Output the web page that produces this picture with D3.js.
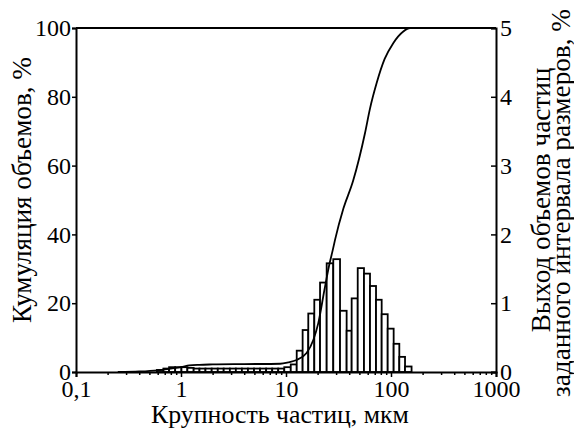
<!DOCTYPE html>
<html>
<head>
<meta charset="utf-8">
<script src="https://cdn.jsdelivr.net/npm/d3@7"></script>
<style>
  body { margin: 0; background: #fff; }
</style>
</head>
<body>
<svg id="chart" width="574" height="432"></svg>
<script>
// границы интервалов гистограммы, мкм
const binEdges = [0.59, 0.68, 0.77, 0.88, 1.01, 1.15, 1.32, 1.5, 1.71, 1.96, 2.24, 2.55,
  2.92, 3.33, 3.8, 4.34, 4.96, 5.66, 6.47, 7.39, 8.43, 9.63, 11.1, 12.65, 14.4, 16.3,
  18.6, 21.1, 24.4, 28.2, 32.7, 37.8, 42.2, 48.2, 55.3, 63.1, 72, 81.5, 93, 106, 120,
  136, 157];
// выход объемов частиц, % (правая ось)
const binValues = [0.03, 0.05, 0.07, 0.07, 0.07, 0.06, 0.05, 0.05, 0.05, 0.05, 0.05,
  0.05, 0.05, 0.05, 0.05, 0.05, 0.05, 0.05, 0.05, 0.05, 0.05, 0.07,
  0.11, 0.31, 0.61, 0.85, 1.05, 1.30, 1.58, 1.64, 0.89, 0.60, 1.07, 1.51, 1.43, 1.25,
  1.05, 0.84, 0.63, 0.41, 0.22, 0.08];
// кумулятивная кривая
const cumSize = [0.25, 0.4, 0.6, 0.8, 1.0, 1.2, 1.5, 2, 4, 8.8, 10.5, 12.6, 15.7, 18.2,
  20.3, 23.2, 25.8, 27.9, 29.3, 35.2, 43.5, 56.5, 63, 73, 87, 105, 131, 152, 486];
const cumPct = [0, 0.15, 0.5, 1.0, 1.4, 1.9, 2.1, 2.2, 2.3, 2.4, 2.8, 3.5, 5.5, 9.3,
  14.2, 23.8, 31.1, 35.5, 38.4, 47.5, 55.5, 69.4, 76.5, 84, 91, 95.6, 99, 100, 100];

const xTicks = [0.1, 1, 10, 100, 1000];
const xTickLabels = ['0,1', '1', '10', '100', '1000'];
const leftTicks = [0, 20, 40, 60, 80, 100];
const rightTicks = [0, 1, 2, 3, 4, 5];

const L = 76, R = 496, T = 28, B = 372;
const fs = 24;
const font = '"Liberation Serif"';

const svg = d3.select('#chart');
const x = d3.scaleLog().domain([0.1, 1000]).range([L, R]);
const yL = d3.scaleLinear().domain([0, 100]).range([B, T]);
const yR = d3.scaleLinear().domain([0, 5]).range([B, T]);

// гистограмма
const bars = binValues.map((v, i) => ({ lo: binEdges[i], hi: binEdges[i + 1], v }));
svg.append('g')
  .selectAll('rect')
  .data(bars)
  .join('rect')
  .attr('x', d => x(d.lo))
  .attr('width', d => x(d.hi) - x(d.lo))
  .attr('y', d => yR(d.v))
  .attr('height', d => B - yR(d.v))
  .attr('fill', '#fff')
  .attr('stroke', '#000')
  .attr('stroke-width', 1.8);

// кривая
const line = d3.line()
  .x(d => x(d[0]))
  .y(d => yL(d[1]))
  .curve(d3.curveMonotoneX);
svg.append('path')
  .datum(cumSize.map((s, i) => [s, cumPct[i]]))
  .attr('d', line)
  .attr('fill', 'none')
  .attr('stroke', '#000')
  .attr('stroke-width', 1.8);

// оси
const minor = x.ticks().filter(t => !xTicks.includes(t));
const gx = svg.append('g').attr('transform', `translate(0,${B})`);
gx.call(d3.axisBottom(x).tickValues(minor).tickSize(3).tickFormat(''));
gx.call(g => g.select('.domain').remove());
svg.append('g').attr('transform', `translate(0,${B})`)
  .call(d3.axisBottom(x).tickValues(xTicks).tickSize(5).tickPadding(3)
    .tickFormat((d, i) => xTickLabels[i]));

svg.append('g').attr('transform', `translate(${L},0)`)
  .call(d3.axisLeft(yL).tickValues(leftTicks).tickSize(4).tickPadding(1));
svg.append('g').attr('transform', `translate(${R},0)`)
  .call(d3.axisRight(yR).tickValues(rightTicks).tickSize(-5).tickPadding(4)
    .tickFormat(d3.format('d')));

svg.selectAll('.domain').attr('stroke-width', 2);
svg.selectAll('.tick line').attr('stroke-width', 1.5);
svg.selectAll('.tick text')
  .style('font-family', font)
  .style('font-size', fs + 'px');

// верхняя рамка
svg.append('line')
  .attr('x1', L).attr('x2', R).attr('y1', T).attr('y2', T)
  .attr('stroke', '#000').attr('stroke-width', 2);

// подписи осей: размер шрифта подбирается под длину подписи на рисунке
function fitSize(str, span) {
  const t = svg.append('text').style('font-family', font).style('font-size', '20px').text(str);
  const w = t.node().getComputedTextLength();
  t.remove();
  return 20 * span / w;
}
function title(tr, str, size) {
  return svg.append('text')
    .attr('transform', tr)
    .attr('text-anchor', 'middle')
    .style('font-family', font)
    .style('font-size', size.toFixed(2) + 'px')
    .text(str);
}
title('translate(280,423)', 'Крупность частиц, мкм', fitSize('Крупность частиц, мкм', 258));
title('translate(31,190) rotate(-90)', 'Кумуляция объемов, %', fitSize('Кумуляция объемов, %', 266));
const rs = fitSize('заданного интервала размеров, %', 388);
title('translate(550,200) rotate(-90)', 'Выход объемов частиц', rs);
title('translate(570,203) rotate(-90)', 'заданного интервала размеров, %', rs);
</script>
</body>
</html>
